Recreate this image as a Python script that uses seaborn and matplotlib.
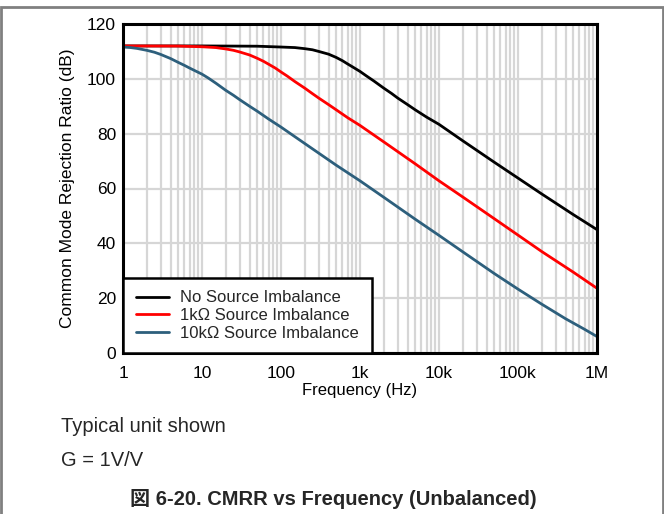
import numpy as np
import pandas as pd
import matplotlib
matplotlib.use("Agg")
import matplotlib.pyplot as plt
import seaborn as sns
from matplotlib.ticker import LogLocator, FixedLocator, FixedFormatter, NullFormatter
from matplotlib.patches import Rectangle

# ---- data ----
freq_black = [1, 10, 50, 100, 150, 200, 250, 300, 400, 500, 600, 700, 800, 1000, 1200, 1500,
              2000, 2500, 3000, 4000, 5000, 7000, 10000, 20000, 50000, 100000, 200000, 500000, 1000000]
cmrr_black = [112.0, 112.0, 111.9, 111.6, 111.4, 111.0, 110.6, 110.0, 109.0, 107.8, 106.6, 105.4, 104.4, 102.7, 101.1, 99.2,
              96.6, 94.7, 93.0, 90.6, 88.7, 86.0, 83.4, 77.4, 69.6, 63.8, 58.0, 50.5, 45.0]

freq_red = [1, 5, 10, 15, 20, 25, 30, 40, 50, 60, 70, 85, 100, 120, 150, 200, 250, 300, 400, 500, 700,
            1000, 2000, 5000, 10000, 20000, 50000, 100000, 200000, 500000, 1000000]
cmrr_red = [112.0, 111.95, 111.7, 111.4, 110.9, 110.4, 109.8, 108.7, 107.5, 106.4, 105.3, 103.9, 102.5, 101.0, 99.0, 96.6, 94.6, 93.0, 90.6, 88.7, 85.8,
            83.0, 77.0, 69.0, 62.8, 56.9, 49.0, 43.0, 37.0, 29.5, 23.6]

freq_blue = [1, 1.25, 1.5, 2, 2.5, 3, 4, 5, 6, 7, 8.5, 10, 12, 15, 20, 25, 30, 40, 50, 70, 100, 200, 500,
             1000, 2000, 5000, 10000, 20000, 50000, 100000, 200000, 400000, 700000, 1000000]
cmrr_blue = [111.6, 111.4, 111.1, 110.4, 109.7, 108.9, 107.4, 106.0, 104.9, 103.9, 102.7, 101.7, 100.3, 98.4, 95.8, 94.0, 92.4, 90.0, 88.2, 85.3, 82.4, 76.4, 68.5,
             62.8, 56.8, 48.8, 42.9, 36.9, 29.0, 23.3, 17.8, 12.5, 8.6, 6.0]

series_names = ["No Source Imbalance", "1k\u03a9 Source Imbalance", "10k\u03a9 Source Imbalance"]
series_colors = ["#000000", "#ff0000", "#2d5f7c"]

x_ticks = [1, 10, 100, 1000, 10000, 100000, 1000000]
x_tick_labels = ["1", "10", "100", "1k", "10k", "100k", "1M"]
y_ticks = [0, 20, 40, 60, 80, 100, 120]

# ---- build long table ----
frames = []
for name, f, v in zip(series_names, [freq_black, freq_red, freq_blue], [cmrr_black, cmrr_red, cmrr_blue]):
    frames.append(pd.DataFrame({"Frequency": f, "CMRR": v, "Series": name}))
df = pd.concat(frames, ignore_index=True)

sns.set_theme(style="white")
plt.rcParams["font.family"] = ["Liberation Sans", "Noto Sans CJK JP", "DejaVu Sans"]

fig = plt.figure(figsize=(6.64, 5.14), dpi=100)
ax = fig.add_axes([123/664, 1-353/514, (597-123)/664, (353-24)/514])

sns.lineplot(data=df, x="Frequency", y="CMRR", hue="Series", hue_order=series_names,
             palette=dict(zip(series_names, series_colors)), estimator=None, sort=False,
             linewidth=2.0, ax=ax, zorder=3)

ax.set_xscale("log")
ax.set_xlim(1, 1e6)
ax.set_ylim(0, 120)
ax.xaxis.set_major_locator(FixedLocator(x_ticks))
ax.xaxis.set_major_formatter(FixedFormatter(x_tick_labels))
ax.xaxis.set_minor_locator(LogLocator(base=10, subs=np.arange(2, 10), numticks=20))
ax.xaxis.set_minor_formatter(NullFormatter())
ax.set_yticks(y_ticks)

ax.grid(True, which="both", axis="x", color="#d6d6d6", linewidth=1.6, zorder=0)
ax.grid(True, which="major", axis="y", color="#d6d6d6", linewidth=1.6, zorder=0)
ax.set_axisbelow(True)

ax.tick_params(axis="both", which="both", length=0, labelsize=12.5, colors="black")
ax.tick_params(axis="x", pad=9)
ax.tick_params(axis="y", pad=5)

for s in ax.spines.values():
    s.set_visible(True)
    s.set_color("black")
    s.set_linewidth(2.2)
    s.set_zorder(5)

ax.set_xlabel("Frequency (Hz)", fontsize=12, color="black", labelpad=2)
ax.set_ylabel("Common Mode Rejection Ratio (dB)", fontsize=12.5, color="black", labelpad=9)

leg = ax.legend(loc="lower left", borderaxespad=0, fancybox=False, framealpha=1,
                edgecolor="black", fontsize=12, handlelength=2.0, handletextpad=0.7,
                borderpad=0.75, labelspacing=0.15)
leg.get_frame().set_linewidth(1.8)
leg.set_zorder(6)

fig.text(61/664, 1-427/514, "Typical unit shown", fontsize=14.5, va="center", ha="left")
fig.text(61/664, 1-461/514, "G = 1V/V", fontsize=14.5, va="center", ha="left")
fig.text(333/664, 1-499/514, "\u56f3 6-20. CMRR vs Frequency (Unbalanced)", fontsize=14.5,
         fontweight="bold", va="center", ha="center")

fig.patches.append(Rectangle((1/664, -0.02), 662/664, 1 - 7/514 + 0.02, transform=fig.transFigure,
                             fill=False, edgecolor="#808080", linewidth=2, clip_on=False))

fig.savefig("out.png", dpi=100)
